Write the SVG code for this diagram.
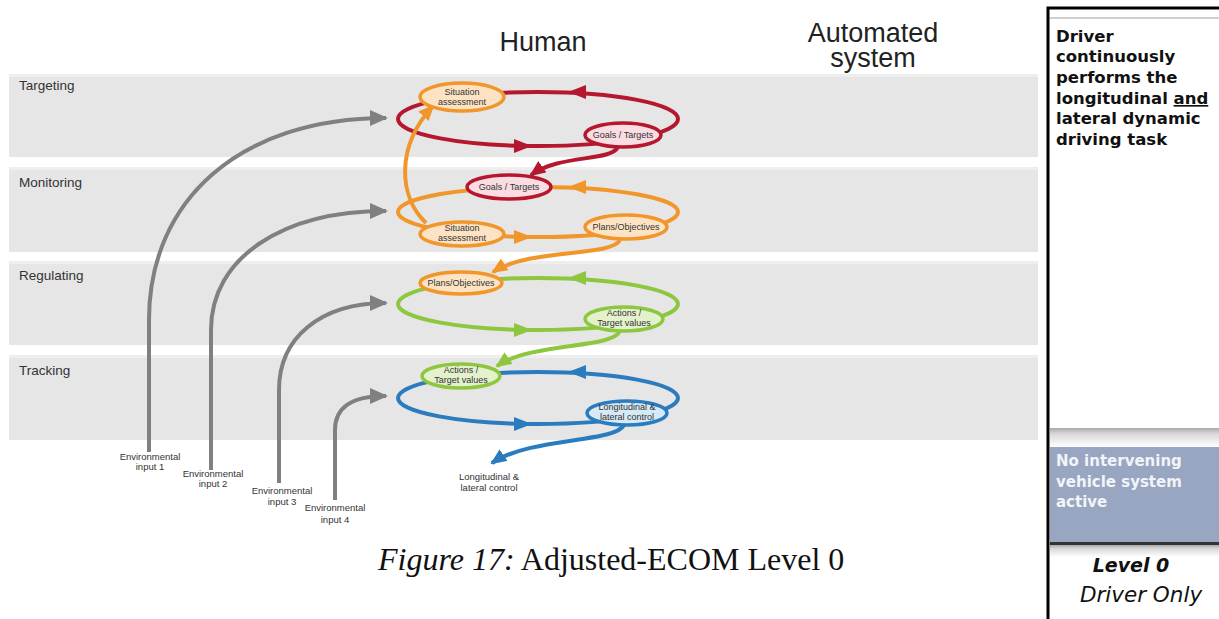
<svg xmlns="http://www.w3.org/2000/svg" width="1219" height="619" viewBox="0 0 1219 619">
  <defs>
    <style>
      .band { fill: #e6e6e6; }
      .bandtop { fill: #eeeeee; }
      .blabel { font-family: "Liberation Sans", Arial, sans-serif; font-size: 13.5px; fill: #333; }
      .title { font-family: "Liberation Sans", Arial, sans-serif; font-size: 27px; fill: #222; text-anchor: middle; }
      .env { font-family: "Liberation Sans", Arial, sans-serif; font-size: 9.5px; fill: #333; text-anchor: middle; }
      .ntext { font-family: "Liberation Sans", Arial, sans-serif; font-size: 9px; fill: #333; text-anchor: middle; }
      .loop { fill: none; stroke-width: 4; }
      .node { stroke-width: 3.5; }
      .conn { fill: none; stroke-width: 4; }
      .gray { fill: none; stroke: #808080; stroke-width: 4; }
      .red { stroke: #b5172f; }
      .orange { stroke: #f0962a; }
      .green { stroke: #8dc63f; }
      .blue { stroke: #2b7bbf; }
      .panel { font-family: "DejaVu Sans", Verdana, sans-serif; font-weight: bold; }
      .caption { font-family: "Liberation Serif", "Times New Roman", serif; font-size: 32px; fill: #111; }
    </style>
    <marker id="mGray" markerUnits="userSpaceOnUse" viewBox="0 0 18 16" markerWidth="18" markerHeight="16" refX="16" refY="8" orient="auto">
      <path d="M0,0 L18,8 L0,16 Z" fill="#808080"/>
    </marker>
    <marker id="mRed" markerUnits="userSpaceOnUse" viewBox="0 0 16 14" markerWidth="16" markerHeight="14" refX="14" refY="7" orient="auto">
      <path d="M0,0 L16,7 L0,14 Z" fill="#b5172f"/>
    </marker>
    <marker id="mOrange" markerUnits="userSpaceOnUse" viewBox="0 0 16 14" markerWidth="16" markerHeight="14" refX="14" refY="7" orient="auto">
      <path d="M0,0 L16,7 L0,14 Z" fill="#f0962a"/>
    </marker>
    <marker id="mGreen" markerUnits="userSpaceOnUse" viewBox="0 0 16 14" markerWidth="16" markerHeight="14" refX="14" refY="7" orient="auto">
      <path d="M0,0 L16,7 L0,14 Z" fill="#8dc63f"/>
    </marker>
    <marker id="mBlue" markerUnits="userSpaceOnUse" viewBox="0 0 16 14" markerWidth="16" markerHeight="14" refX="14" refY="7" orient="auto">
      <path d="M0,0 L16,7 L0,14 Z" fill="#2b7bbf"/>
    </marker>
    <linearGradient id="shadeTop" x1="0" y1="0" x2="0" y2="1">
      <stop offset="0" stop-color="#a8a8a8"/>
      <stop offset="0.3" stop-color="#d8d8d8"/>
      <stop offset="1" stop-color="#ffffff"/>
    </linearGradient>
  </defs>

  <rect width="1219" height="619" fill="#ffffff"/>

  <!-- layer bands -->
  <g id="bands">
    <rect class="band" x="9" y="74" width="1029" height="83"/>
    <rect class="bandtop" x="9" y="74" width="1029" height="3"/>
    <rect class="band" x="9" y="167" width="1029" height="85"/>
    <rect class="bandtop" x="9" y="167" width="1029" height="3"/>
    <rect class="band" x="9" y="261" width="1029" height="84"/>
    <rect class="bandtop" x="9" y="261" width="1029" height="3"/>
    <rect class="band" x="9" y="355" width="1029" height="85"/>
    <rect class="bandtop" x="9" y="355" width="1029" height="3"/>
    <text class="blabel" x="19" y="90">Targeting</text>
    <text class="blabel" x="19" y="187">Monitoring</text>
    <text class="blabel" x="19" y="280">Regulating</text>
    <text class="blabel" x="19" y="375">Tracking</text>
  </g>

  <!-- column titles -->
  <g id="titles">
    <text class="title" x="543" y="51">Human</text>
    <text class="title" x="873" y="42">Automated</text>
    <text class="title" x="873" y="67">system</text>
  </g>

  <!-- control loops -->
  <g id="loops">
    <ellipse class="loop red" cx="538" cy="119" rx="140" ry="27"/>
    <polygon points="568,92 586,85 586,99" fill="#b5172f"/>
    <polygon points="532,146 514,139 514,153" fill="#b5172f"/>

    <ellipse class="loop orange" cx="538" cy="212" rx="140" ry="25"/>
    <polygon points="568,187 586,180 586,194" fill="#f0962a"/>
    <polygon points="532,237 514,230 514,244" fill="#f0962a"/>

    <ellipse class="loop green" cx="538" cy="304" rx="140" ry="26"/>
    <polygon points="568,278 586,271 586,285" fill="#8dc63f"/>
    <polygon points="532,330 514,323 514,337" fill="#8dc63f"/>

    <ellipse class="loop blue" cx="538" cy="398" rx="140" ry="26"/>
    <polygon points="568,372 586,365 586,379" fill="#2b7bbf"/>
    <polygon points="532,424 514,417 514,431" fill="#2b7bbf"/>
  </g>

  <!-- connectors -->
  <g id="connectors">
    <path class="gray" d="M149 452 L149 320 C149 200 240 118 386 118" marker-end="url(#mGray)"/>
    <path class="gray" d="M211 470 L211 330 C211 258 282 211 386 211" marker-end="url(#mGray)"/>
    <path class="gray" d="M279 483 L279 390 C279 338 320 303 386 303" marker-end="url(#mGray)"/>
    <path class="gray" d="M335 500 L335 430 C335 408 350 396 386 396" marker-end="url(#mGray)"/>

    <path class="conn red" d="M618 147 C610 162 560 154 531 175" marker-end="url(#mRed)"/>
    <path class="conn orange" d="M426 223 C398 196 396 146 433 106" marker-end="url(#mOrange)"/>
    <path class="conn orange" d="M620 240 C612 257 530 248 493 272" marker-end="url(#mOrange)"/>
    <path class="conn green" d="M620 331 C612 349 532 342 497 366" marker-end="url(#mGreen)"/>
    <path class="conn blue" d="M624 425 C615 443 530 437 492 463" marker-end="url(#mBlue)"/>
  </g>

  <!-- nodes -->
  <g id="node-sa-targeting">
    <ellipse class="node orange" cx="462" cy="97" rx="42" ry="14" fill="#fde3c3"/>
    <text class="ntext" x="462" y="95">Situation</text>
    <text class="ntext" x="462" y="105">assessment</text>
  </g>
  <g id="node-goals-targeting">
    <ellipse class="node red" cx="623" cy="135" rx="38" ry="12" fill="#f9dde2"/>
    <text class="ntext" x="623" y="138">Goals / Targets</text>
  </g>
  <g id="node-goals-monitoring">
    <ellipse class="node red" cx="509" cy="187" rx="42" ry="12" fill="#f9dde2"/>
    <text class="ntext" x="509" y="190">Goals / Targets</text>
  </g>
  <g id="node-sa-monitoring">
    <ellipse class="node orange" cx="462" cy="234" rx="42" ry="12" fill="#fde3c3"/>
    <text class="ntext" x="462" y="231">Situation</text>
    <text class="ntext" x="462" y="241">assessment</text>
  </g>
  <g id="node-plans-monitoring">
    <ellipse class="node orange" cx="626" cy="227" rx="41" ry="12" fill="#fde3c3"/>
    <text class="ntext" x="626" y="230">Plans/Objectives</text>
  </g>
  <g id="node-plans-regulating">
    <ellipse class="node orange" cx="461" cy="283" rx="41" ry="11" fill="#fde3c3"/>
    <text class="ntext" x="461" y="286">Plans/Objectives</text>
  </g>
  <g id="node-actions-regulating">
    <ellipse class="node green" cx="624" cy="319" rx="39" ry="12" fill="#e3f1cc"/>
    <text class="ntext" x="624" y="316">Actions /</text>
    <text class="ntext" x="624" y="326">Target values</text>
  </g>
  <g id="node-actions-tracking">
    <ellipse class="node green" cx="461" cy="376" rx="39" ry="12" fill="#e3f1cc"/>
    <text class="ntext" x="461" y="373">Actions /</text>
    <text class="ntext" x="461" y="383">Target values</text>
  </g>
  <g id="node-control-tracking">
    <ellipse class="node blue" cx="627" cy="413" rx="40" ry="12" fill="#d6e9f7"/>
    <text class="ntext" x="627" y="410">Longitudinal &amp;</text>
    <text class="ntext" x="627" y="420">lateral control</text>
  </g>

  <!-- input and output labels -->
  <g id="io-labels">
    <text class="env" x="150" y="460">Environmental</text>
    <text class="env" x="150" y="470">input 1</text>
    <text class="env" x="213" y="477">Environmental</text>
    <text class="env" x="213" y="487">input 2</text>
    <text class="env" x="282" y="494">Environmental</text>
    <text class="env" x="282" y="505">input 3</text>
    <text class="env" x="335" y="511">Environmental</text>
    <text class="env" x="335" y="523">input 4</text>
    <text class="env" x="489" y="480">Longitudinal &amp;</text>
    <text class="env" x="489" y="491">lateral control</text>
  </g>

  <!-- caption -->
  <text class="caption" x="378" y="570"><tspan font-style="italic">Figure 17:</tspan> Adjusted-ECOM Level 0</text>

  <!-- level description panel -->
  <g id="level-panel">
    <rect x="1048" y="8" width="175" height="620" fill="#ffffff" stroke="#000" stroke-width="3"/>
    <rect x="1050" y="17" width="169" height="2" fill="#cfcfcf"/>
    <text class="panel" font-size="16.5" fill="#111">
      <tspan x="1056" y="42">Driver</tspan>
      <tspan x="1056" y="62">continuously</tspan>
      <tspan x="1056" y="83">performs the</tspan>
      <tspan x="1056" y="104">longitudinal <tspan text-decoration="underline">and</tspan></tspan>
      <tspan x="1056" y="124">lateral dynamic</tspan>
      <tspan x="1056" y="145">driving task</tspan>
    </text>
    <rect x="1050" y="428" width="169" height="19" fill="url(#shadeTop)"/>
    <rect x="1050" y="447" width="169" height="96" fill="#98a6c2"/>
    <rect x="1050" y="542" width="169" height="3" fill="#333"/>
    <rect x="1050" y="545" width="169" height="12" fill="url(#shadeTop)"/>
    <text class="panel" font-size="15" fill="#f2f4f8">
      <tspan x="1056" y="466">No intervening</tspan>
      <tspan x="1056" y="487">vehicle system</tspan>
      <tspan x="1056" y="507">active</tspan>
    </text>
    <text class="panel" x="1131" y="572" font-size="19" font-style="italic" text-anchor="middle" fill="#111">Level 0</text>
    <text x="1141" y="602" font-family="DejaVu Sans, Verdana, sans-serif" font-size="21.5" font-style="italic" text-anchor="middle" fill="#111">Driver Only</text>
  </g>
</svg>
